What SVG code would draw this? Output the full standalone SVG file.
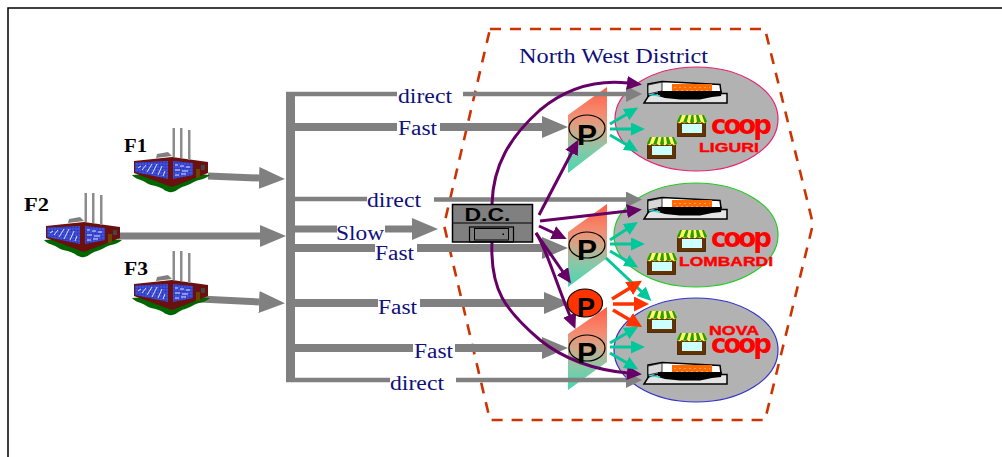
<svg xmlns="http://www.w3.org/2000/svg" width="1002" height="457" viewBox="0 0 1002 457">
<style>
.lbl{font-family:"Liberation Serif","Times New Roman",serif;font-size:20px;fill:#10107a}
.f{font-family:"Liberation Serif","Times New Roman",serif;font-size:19px;font-weight:bold;fill:#000}
.pl{font-family:"Liberation Sans",Arial,sans-serif;font-weight:bold;fill:#000;text-anchor:middle}
.red{font-weight:bold;fill:#f00}
.coop{font-family:"DejaVu Sans",Arial,sans-serif;font-size:26px;letter-spacing:-3px}
.name{font-family:"Liberation Sans",Arial,sans-serif;font-size:13px;stroke:#f00;stroke-width:.4}
.g{fill:none;stroke:#808080}
.big{stroke-width:8}
.sl{stroke-width:4.500}
.p{fill:none;stroke:#660066;stroke-width:3;marker-end:url(#mp)}
.t{fill:none;stroke:#00c89a;stroke-width:3;marker-end:url(#mt)}
.r{fill:none;stroke:#ff3300;stroke-width:3.500;marker-end:url(#mr)}
.ring{fill:none;stroke:#000;stroke-width:1.200}
</style>
<defs>
<marker id="hb" markerUnits="userSpaceOnUse" markerWidth="26" markerHeight="22" refX="0" refY="11" orient="auto"><path d="M0,0L26,11L0,22Z" fill="#808080"/></marker>
<marker id="hs" markerUnits="userSpaceOnUse" markerWidth="16" markerHeight="16" refX="0" refY="8" orient="auto"><path d="M0,0L16,8L0,16Z" fill="#808080"/></marker>
<marker id="mp" markerUnits="userSpaceOnUse" markerWidth="15" markerHeight="14" refX="1" refY="7" orient="auto"><path d="M0,0L15,7L0,14Z" fill="#660066"/></marker>
<marker id="mt" markerUnits="userSpaceOnUse" markerWidth="14" markerHeight="13" refX="1" refY="6.500" orient="auto"><path d="M0,0L14,6.500L0,13Z" fill="#00c89a"/></marker>
<marker id="mr" markerUnits="userSpaceOnUse" markerWidth="15" markerHeight="15" refX="1" refY="7.500" orient="auto"><path d="M0,0L15,7.500L0,15Z" fill="#ff3300"/></marker>
<linearGradient id="pg" x1="0" y1="0" x2="0" y2="1"><stop offset="0" stop-color="#ff5f45"/><stop offset=".3" stop-color="#f58a70"/><stop offset=".5" stop-color="#d0a888"/><stop offset=".72" stop-color="#88c8a8"/><stop offset="1" stop-color="#45d8b0"/></linearGradient>
<pattern id="win" width="3" height="3" patternUnits="userSpaceOnUse"><rect width="3" height="3" fill="#3f4fe0"/><path d="M0,0H3M0,0V3" stroke="#1a1a70" stroke-width=".5"/></pattern>
<g id="factory">
<path d="M132,175L172,172L210,175C205,180 198,179 192,183C187,186 182,186 177,190C173,193 168,193 163,189C156,185 150,186 145,182C140,179 135,179 132,175Z" fill="#006600"/>
<path d="M134,161L172,157L208,162V173L172,187L134,173Z" fill="#6b0f0f"/>
<path d="M135,162.500L168,161V179L135,172Z" fill="url(#win)"/>
<path d="M173,161L193,163V175L173,179Z" fill="url(#win)"/>
<path d="M138,168l3,-2M142,170l4,-5M147,172l5,-8M152,174l5,-10M158,175l4,-9M163,176l2,-5M175,165h3M180,166h4M186,167h4M175,170h5M182,171h6M175,175h4M181,174h5" stroke="#dfe3ff" stroke-width="1" fill="none"/>
<rect x="196" y="169" width="4" height="9" fill="#6a4400"/>
<rect x="201" y="165" width="4" height="5" fill="#444"/>
<path d="M156,158L157,154L168,152L172,156Z" fill="#808080"/>
<path d="M172.500,128h2.500v29h-2.500ZM180,128h2.500v30h-2.500ZM188,130h2.500v30h-2.500Z" fill="#8c8c8c"/>
</g>
<g id="hyper">
<path d="M650,93.500H727V103H644Z" fill="#e4e4e4" stroke="#000" stroke-width="1.500"/>
<path d="M648,84L662,81.500L720,84.500L721,92L662,92L648,96Z" fill="#fff" stroke="#000" stroke-width="1.500"/>
<path d="M648,85L662,82V91L648,94Z" fill="#d8d8d8" stroke="#000" stroke-width=".8"/>
<rect x="672" y="84" width="40" height="8" fill="#ff6a00"/>
<path d="M674,87.500H710M676,90.500H708" stroke="#ffb070" stroke-width=".8" stroke-dasharray="2 3"/>
<path d="M658,91H722L721,96L712,97L700,99.500L680,99.500L665,98L658,96Z" fill="#000"/>
<path d="M649,94.500L660,96" stroke="#30e0e0" stroke-width="1.500"/>
</g>
<g id="shop">
<rect x="0.500" y="7" width="28" height="14.500" fill="#663300" stroke="#3a1e00" stroke-width=".8"/>
<rect x="5" y="9" width="20" height="9" fill="#ccffff"/>
<path d="M3,0H27L30,6C30,9 25,9 25,6C25,9 20,9 20,6C20,9 15,9 15,6C15,9 10,9 10,6C10,9 5,9 5,6C5,9 0,9 0,6Z" fill="#ffff66"/>
<path d="M3,0H5L2.500,7C1,8 0,7 0,6ZM9,0H11.500L10,6C10,8 7,8 6,7.500ZM14.500,0H16.500L17,7.500C16,8 14,8 13,7ZM19,0H21.500L24,7C23,8 21,8 20,7ZM25,0H27L30,6C30,8 28,8 27.500,7.500Z" fill="#2f9900"/>
</g>
</defs>
<path d="M1002,8H8V457" fill="none" stroke="#000" stroke-width="1.500"/>

<g id="district">
<path d="M490,29H765L813,224L765,420H490L444,225Z" fill="none" stroke="#cc3300" stroke-width="2.600" stroke-dasharray="11 9"/>
<text class="lbl" x="519" y="63" textLength="189" lengthAdjust="spacingAndGlyphs">North West District</text>
</g>

<g id="liguri">
<ellipse cx="696.500" cy="119" rx="81.500" ry="52" fill="#b2b2b2" stroke="#e8206f" stroke-width="1.200"/>
<use href="#hyper"/>
<use href="#shop" x="677" y="115"/>
<use href="#shop" x="647" y="137"/>
<text class="red coop" x="711" y="134">coop</text>
<text class="red name" x="699" y="152" textLength="60" lengthAdjust="spacingAndGlyphs">LIGURI</text>
</g>
<g id="lombardi">
<ellipse cx="696" cy="235" rx="82" ry="52" fill="#b2b2b2" stroke="#22cc22" stroke-width="1.200"/>
<use href="#hyper" y="116"/>
<use href="#shop" x="677" y="230"/>
<use href="#shop" x="647" y="253"/>
<text class="red coop" x="711" y="247">coop</text>
<text class="red name" x="679" y="266" textLength="94" lengthAdjust="spacingAndGlyphs">LOMBARDI</text>
</g>
<g id="nova">
<ellipse cx="696" cy="350" rx="82" ry="52" fill="#b2b2b2" stroke="#3333cc" stroke-width="1.200"/>
<use href="#hyper" y="281"/>
<use href="#shop" x="647" y="311"/>
<use href="#shop" x="677" y="333"/>
<text class="red name" x="709" y="335" textLength="50" lengthAdjust="spacingAndGlyphs">NOVA</text>
<text class="red coop" x="711" y="353">coop</text>
</g>

<g id="panels">
<path d="M568,115L607,87V143L568,173Z" fill="url(#pg)"/>
<path d="M568,232L607,204V258L568,287Z" fill="url(#pg)"/>
<path d="M568,334L607,307V362L568,390Z" fill="url(#pg)"/>
</g>

<g id="connectors">
<path d="M290.500,381V93" fill="none" stroke="#808080" stroke-width="9"/>
<path class="g sl" d="M286,94H397M463,94H626" marker-end="url(#hs)"/>
<path class="g big" d="M295,127H397M440,127H542" marker-end="url(#hb)"/>
<path class="g sl" d="M295,199H367M434,199.500H626" marker-end="url(#hs)"/>
<path class="g" stroke-width="7" d="M295,229H337M385,229H412" marker-end="url(#hb)"/>
<path class="g big" d="M295,248H375M417,248H542" marker-end="url(#hb)"/>
<path class="g big" d="M295,303H378M420,303H544" marker-end="url(#hb)"/>
<path class="g big" d="M295,348H413M455,348H542" marker-end="url(#hb)"/>
<path class="g sl" d="M286,380H390M456,380H626" marker-end="url(#hs)"/>
<path class="g" stroke-width="7" d="M208,176L259,178" marker-end="url(#hb)"/>
<path class="g" stroke-width="7" d="M118,236H260" marker-end="url(#hb)"/>
<path class="g" stroke-width="7" d="M200,299L259,302" marker-end="url(#hb)"/>
<path class="p" d="M492,204C493,165 510,137 540,110C570,85 600,80 628,83"/>
<path class="p" d="M492,242C490,290 505,310 540,340C565,360 595,370 628,373"/>
<path class="p" d="M539,215L572,152"/>
<path class="p" d="M540,221L628,211"/>
<path class="p" d="M539,226L554,233"/>
<path class="p" d="M536,233L563,272"/>
<path class="p" d="M536,233C545,245 555,280 570,316"/>
<path class="t" d="M610,124L627,114"/>
<path class="t" d="M610,129H632"/>
<path class="t" d="M610,135L627,145"/>
<path class="t" d="M610,240L627,229"/>
<path class="t" d="M610,244H632"/>
<path class="t" d="M610,251L627,261"/>
<path class="t" d="M606,258L642,292"/>
<path class="t" d="M610,343L627,333"/>
<path class="t" d="M610,347H632"/>
<path class="t" d="M610,353L627,363"/>
<path class="r" d="M612,299L630,288"/>
<path class="r" d="M613,304H635"/>
<path class="r" d="M613,310L630,320"/>
</g>

<g id="f1"><use href="#factory"/><text class="f" x="124" y="152" textLength="23" lengthAdjust="spacingAndGlyphs">F1</text></g>
<g id="f2"><use href="#factory" x="-88" y="65"/><text class="f" x="24" y="211" textLength="25" lengthAdjust="spacingAndGlyphs">F2</text></g>
<g id="f3"><use href="#factory" y="123"/><text class="f" x="124" y="275" textLength="24" lengthAdjust="spacingAndGlyphs">F3</text></g>

<g id="labels">
<text class="lbl" x="398" y="103" textLength="54" lengthAdjust="spacingAndGlyphs">direct</text>
<text class="lbl" x="398" y="135" textLength="39" lengthAdjust="spacingAndGlyphs">Fast</text>
<text class="lbl" x="367" y="207" textLength="54" lengthAdjust="spacingAndGlyphs">direct</text>
<text class="lbl" x="336" y="240" textLength="48" lengthAdjust="spacingAndGlyphs">Slow</text>
<text class="lbl" x="375" y="260" textLength="39" lengthAdjust="spacingAndGlyphs">Fast</text>
<text class="lbl" x="378" y="314" textLength="39" lengthAdjust="spacingAndGlyphs">Fast</text>
<text class="lbl" x="414" y="358" textLength="39" lengthAdjust="spacingAndGlyphs">Fast</text>
<text class="lbl" x="390" y="390" textLength="54" lengthAdjust="spacingAndGlyphs">direct</text>
</g>

<g id="dc">
<rect x="452.500" y="204.500" width="80" height="37.500" fill="#808080" stroke="#000" stroke-width="1.500"/>
<path d="M452.500,223H532.500" stroke="#000" stroke-width="1.200"/>
<rect x="469.500" y="227" width="44" height="15" fill="none" stroke="#000" stroke-width="1.200"/>
<rect x="474.500" y="228.500" width="34" height="11.500" fill="none" stroke="#000" stroke-width="1"/>
<rect x="502.500" y="233.500" width="1.500" height="1.500" fill="#000"/>
<text class="pl" x="487.500" y="221" font-size="18" textLength="46" lengthAdjust="spacingAndGlyphs">D.C.</text>
</g>

<g id="p1"><ellipse class="ring" cx="587" cy="128" rx="18" ry="13"/><text class="pl" x="587" y="145" font-size="30">P</text></g>
<g id="p2"><ellipse class="ring" cx="587" cy="245" rx="18" ry="13"/><text class="pl" x="587" y="260" font-size="30">P</text></g>
<g id="p3"><ellipse class="ring" cx="587" cy="348" rx="18" ry="13"/><text class="pl" x="587" y="363" font-size="30">P</text></g>
<g id="p4"><ellipse cx="585" cy="303" rx="17.500" ry="14" fill="#ff3300" stroke="#000" stroke-width="1.200"/><text class="pl" x="586" y="317" font-size="27">P</text></g>
</svg>
